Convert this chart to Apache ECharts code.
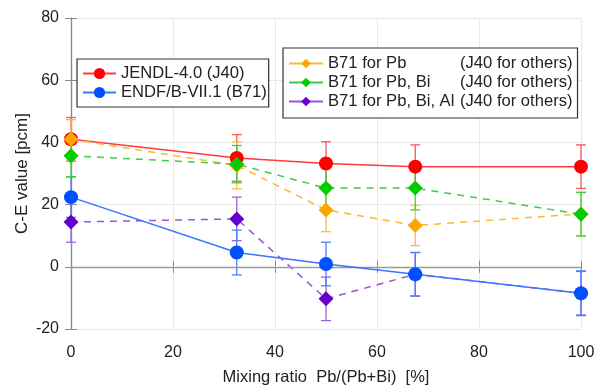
<!DOCTYPE html>
<html><head><meta charset="utf-8">
<script src="https://cdn.jsdelivr.net/npm/echarts@6/dist/echarts.min.js"></script>
<style>html,body{margin:0;padding:0;background:#fff}#c{width:598px;height:385px}</style>
</head><body><div id="c"></div>
<script>
var mixingRatio = [0, 32.5, 50, 67.5, 100];
var xTicks = [0, 20, 40, 60, 80, 100];
var yTicks = [-20, 0, 20, 40, 60, 80];
var jendl = [41.0, 35.0, 33.2, 32.2, 32.2];
var jendlErr = [7, 7.5, 7, 7, 7];
var endf = [22.4, 4.6, 0.9, -2.4, -8.5];
var endfErr = [6.5, 7.2, 7, 7, 7.2];
var b71Pb = [41.0, 32.6, 18.3, 13.3, 17.0];
var b71PbErr = [6.3, 7.5, 7, 6.5, 7];
var b71PbBi = [35.7, 33.0, 25.3, 25.3, 16.9];
var b71PbBiErr = [6.7, 6, 7, 7, 7];
var b71PbBiAl = [14.4, 15.4, -10.3, -2.4, -8.5];
var b71PbBiAlErr = [6.5, 7, 7, 7, 7];

var FONT = '"Liberation Sans", Arial, sans-serif';
var TXT = '#222';

function pts(ys){ return mixingRatio.map(function(x,i){ return [x, ys[i]]; }); }
function errPts(ys, es){ return mixingRatio.map(function(x,i){ return [x, ys[i], es[i]]; }); }

function errSeries(ys, es, color, z){
  return {
    type: 'custom', silent: true, z: z, legendHoverLink: false,
    data: errPts(ys, es),
    renderItem: function(params, api){
      var x = api.value(0), y = api.value(1), e = api.value(2);
      var top = api.coord([x, y + e]), bot = api.coord([x, y - e]);
      var w = 5;
      var st = {stroke: color, lineWidth: 1.3};
      return {type: 'group', children: [
        {type: 'line', shape: {x1: top[0], y1: top[1], x2: bot[0], y2: bot[1]}, style: st},
        {type: 'line', shape: {x1: top[0]-w, y1: top[1], x2: top[0]+w, y2: top[1]}, style: st},
        {type: 'line', shape: {x1: bot[0]-w, y1: bot[1], x2: bot[0]+w, y2: bot[1]}, style: st}
      ]};
    }
  };
}

function lineSeries(name, ys, marker, lineColor, symbol, dashed, z){
  return {
    name: name, type: 'line', data: pts(ys), z: z,
    symbol: symbol, symbolSize: symbol === 'circle' ? 14 : 15,
    itemStyle: {color: marker},
    lineStyle: {color: lineColor, width: 1.5, type: dashed ? [7, 6] : 'solid'},
    emphasis: {disabled: true}, animation: false
  };
}

var chart = echarts.init(document.getElementById('c'), null, {renderer: 'canvas'});
var axisLine = {show: true, lineStyle: {color: '#8a8a8a', width: 1.2}};
var option = {
  animation: false,
  grid: {left: 71, right: 17, top: 18, bottom: 56, containLabel: false, outerBoundsMode: 'none'},
  xAxis: [{
    type: 'value', min: 0, max: 100, interval: 20,
    name: 'Mixing ratio  Pb/(Pb+Bi)  [%]', nameLocation: 'middle', nameGap: 40, nameMoveOverlap: false,
    nameTextStyle: {fontFamily: FONT, fontSize: 16.5, color: TXT},
    axisLine: axisLine,
    axisTick: {show: true, inside: true, length: 6, lineStyle: {color: '#8a8a8a'}},
    axisLabel: {fontFamily: FONT, fontSize: 16, color: TXT, margin: 16,
      formatter: function(v){ return xTicks.indexOf(v) >= 0 ? String(v) : ''; }},
    splitLine: {show: true, lineStyle: {color: '#e8e8e8', width: 1}}
  }, {
    type: 'value', min: 0, max: 100, interval: 20, position: 'top',
    axisLine: axisLine,
    axisTick: {show: true, inside: true, length: 6, lineStyle: {color: '#8a8a8a'}},
    axisLabel: {show: false}, splitLine: {show: false}
  }],
  yAxis: [{
    type: 'value', min: -20, max: 80, interval: 20,
    name: 'C-E value [pcm]', nameLocation: 'middle', nameGap: 40, nameRotate: 90, nameMoveOverlap: false,
    nameTextStyle: {fontFamily: FONT, fontSize: 17, color: TXT},
    axisLine: axisLine,
    axisTick: {show: true, inside: true, length: 6, lineStyle: {color: '#8a8a8a'}},
    axisLabel: {fontFamily: FONT, fontSize: 16, color: TXT, margin: 12,
      formatter: function(v){ return yTicks.indexOf(v) >= 0 ? String(v) : ''; }},
    splitLine: {show: true, lineStyle: {color: '#e8e8e8', width: 1}}
  }, {
    type: 'value', min: -20, max: 80, interval: 20, position: 'right',
    axisLine: axisLine,
    axisTick: {show: true, inside: true, length: 6, lineStyle: {color: '#8a8a8a'}},
    axisLabel: {show: false}, splitLine: {show: false}
  }],
  legend: [{
    data: ['JENDL-4.0 (J40)', 'ENDF/B-VII.1 (B71)'],
    orient: 'vertical', left: 77, top: 59,
    padding: [6, 2, 6, 5], itemGap: 2, itemWidth: 33, itemHeight: 14,
    backgroundColor: '#fff', borderColor: '#333', borderWidth: 1.2,
    textStyle: {fontFamily: FONT, fontSize: 16.6, lineHeight: 17, color: TXT},
    lineStyle: {type: 'solid'},
    selectedMode: false
  }, {
    data: ['B71 for Pb', 'B71 for Pb, Bi', 'B71 for Pb, Bi, Al'],
    orient: 'vertical', left: 283, top: 48,
    padding: [7, 5, 8, 5], itemGap: 2, itemWidth: 34, itemHeight: 12,
    backgroundColor: '#fff', borderColor: '#333', borderWidth: 1.2,
    textStyle: {fontFamily: FONT, fontSize: 16.6, lineHeight: 17, color: TXT,
      rich: {a: {fontFamily: FONT, fontSize: 16.6, lineHeight: 17, color: TXT, width: 132},
             b: {fontFamily: FONT, fontSize: 16.6, lineHeight: 17, color: TXT}}},
    lineStyle: {type: 'solid'},
    formatter: function(n){ return '{a|' + n + '}{b|(J40 for others)}'; },
    selectedMode: false
  }],
  series: [
    errSeries(jendl, jendlErr, '#ff5555', 2),
    errSeries(b71PbBiAl, b71PbBiAlErr, '#9966dd', 2),
    errSeries(endf, endfErr, '#4a80ff', 2),
    errSeries(b71Pb, b71PbErr, '#ffbb44', 2),
    errSeries(b71PbBi, b71PbBiErr, '#44cc44', 2),
    Object.assign(lineSeries('JENDL-4.0 (J40)', jendl, '#ff0000', '#ff3b3b', 'circle', false, 3), {
      markLine: {silent: true, symbol: 'none', label: {show: false},
        lineStyle: {color: '#9a9a9a', width: 1.3, type: 'solid'}, data: [{yAxis: 0}]}
    }),
    lineSeries('B71 for Pb, Bi, Al', b71PbBiAl, '#6600cc', '#9955dd', 'diamond', true, 4),
    lineSeries('ENDF/B-VII.1 (B71)', endf, '#0050ff', '#3a76ff', 'circle', false, 5),
    lineSeries('B71 for Pb', b71Pb, '#ffa500', '#ffb733', 'diamond', true, 6),
    lineSeries('B71 for Pb, Bi', b71PbBi, '#00cc00', '#3fcc3f', 'diamond', true, 7)
  ]
};
chart.setOption(option);
</script></body></html>
